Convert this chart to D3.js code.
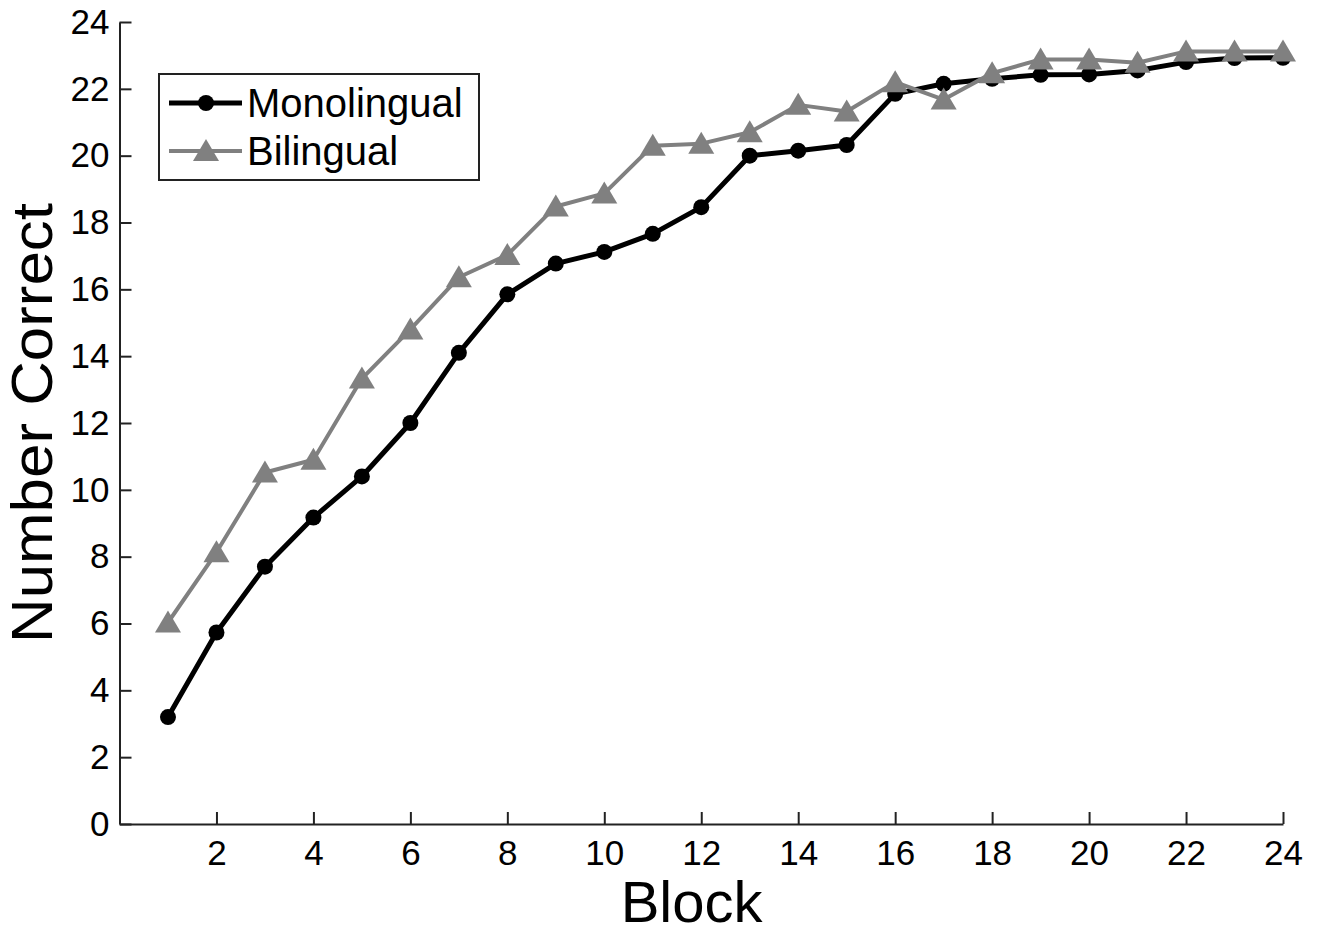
<!DOCTYPE html>
<html>
<head>
<meta charset="utf-8">
<script src="https://cdn.jsdelivr.net/npm/d3@7"></script>
<style>
  html, body { margin: 0; padding: 0; background: #fff; }
  svg { display: block; font-family: "Liberation Sans", Arial, Helvetica, sans-serif; }
</style>
</head>
<body>
<svg id="chart" width="1322" height="935"></svg>
<script>
const blocks = d3.range(1, 25);
const monolingual = [3.2, 5.73, 7.7, 9.17, 10.4, 12.0, 14.1, 15.85, 16.77, 17.12, 17.66, 18.46,
                     20.0, 20.15, 20.32, 21.85, 22.15, 22.3, 22.42, 22.43, 22.55, 22.8, 22.92, 22.93];
const bilingual = [6.03, 8.13, 10.52, 10.9, 13.33, 14.8, 16.36, 17.03, 18.48, 18.87, 20.3, 20.36,
                   20.7, 21.52, 21.32, 22.2, 21.68, 22.47, 22.88, 22.88, 22.78, 23.12, 23.12, 23.12];
const xTicks = [2, 4, 6, 8, 10, 12, 14, 16, 18, 20, 22, 24];
const yTicks = [0, 2, 4, 6, 8, 10, 12, 14, 16, 18, 20, 22, 24];
const seriesNames = ["Monolingual", "Bilingual"];
const seriesColors = ["#000000", "#808080"];

const svg = d3.select("#chart");
const x = d3.scaleLinear().domain([0, 24]).range([119.5, 1283]);
const y = d3.scaleLinear().domain([0, 24]).range([824, 22]);

// axes
const xAxis = svg.append("g").attr("transform", `translate(0,${y(0)})`)
  .call(d3.axisBottom(x).tickValues(xTicks).tickSizeInner(-12).tickSizeOuter(0).tickPadding(16).tickFormat(d3.format("d")));
const yAxis = svg.append("g").attr("transform", `translate(${x(0)},0)`)
  .call(d3.axisLeft(y).tickValues(yTicks).tickSizeInner(-12).tickSizeOuter(0).tickPadding(10).tickFormat(d3.format("d")));
[xAxis, yAxis].forEach(g => {
  g.select(".domain").attr("stroke", "#222").attr("stroke-width", 2);
  g.selectAll(".tick line").attr("stroke", "#222").attr("stroke-width", 2);
  g.selectAll(".tick text").attr("font-size", 35).attr("fill", "#000")
    .attr("font-family", "Liberation Sans, Arial, sans-serif");
});
xAxis.selectAll(".tick text").attr("dy", "0.71em");

// axis labels
svg.append("text").attr("x", x(11.8)).attr("y", 922).attr("text-anchor", "middle")
  .attr("font-size", 58).text("Block");
svg.append("text").attr("transform", `translate(52,${423}) rotate(-90)`).attr("text-anchor", "middle")
  .attr("font-size", 57).attr("textLength", 440).attr("lengthAdjust", "spacingAndGlyphs").text("Number Correct");

const tri = "M0,-12L13,10L-13,10Z";
const line = d3.line().x((d, i) => x(blocks[i])).y(d => y(d));

function drawSeries(vals, color, width, marker) {
  const g = svg.append("g");
  g.append("path").datum(vals).attr("d", line).attr("fill", "none")
    .attr("stroke", color).attr("stroke-width", width).attr("stroke-linejoin", "round");
  if (marker === "circle") {
    g.selectAll("circle").data(vals).join("circle")
      .attr("cx", (d, i) => x(blocks[i])).attr("cy", d => y(d)).attr("r", 8).attr("fill", color);
  } else {
    g.selectAll("path.m").data(vals).join("path").attr("class", "m")
      .attr("d", tri).attr("transform", (d, i) => `translate(${x(blocks[i])},${y(d)})`).attr("fill", color);
  }
}
drawSeries(monolingual, seriesColors[0], 5, "circle");
drawSeries(bilingual, seriesColors[1], 4, "triangle");

// legend
const lg = svg.append("g");
lg.append("rect").attr("x", 159).attr("y", 74).attr("width", 320).attr("height", 106)
  .attr("fill", "#fff").attr("stroke", "#222").attr("stroke-width", 2);
const rows = [{y: 103, name: seriesNames[0], color: seriesColors[0], w: 5, m: "circle"},
              {y: 151, name: seriesNames[1], color: seriesColors[1], w: 4, m: "triangle"}];
rows.forEach(r => {
  lg.append("line").attr("x1", 169).attr("x2", 242).attr("y1", r.y).attr("y2", r.y)
    .attr("stroke", r.color).attr("stroke-width", r.w);
  if (r.m === "circle") lg.append("circle").attr("cx", 206).attr("cy", r.y).attr("r", 8).attr("fill", r.color);
  else lg.append("path").attr("d", tri).attr("transform", `translate(206,${r.y})`).attr("fill", r.color);
  lg.append("text").attr("x", 247).attr("y", r.y + 14).attr("font-size", 40).text(r.name);
});
</script>
</body>
</html>
